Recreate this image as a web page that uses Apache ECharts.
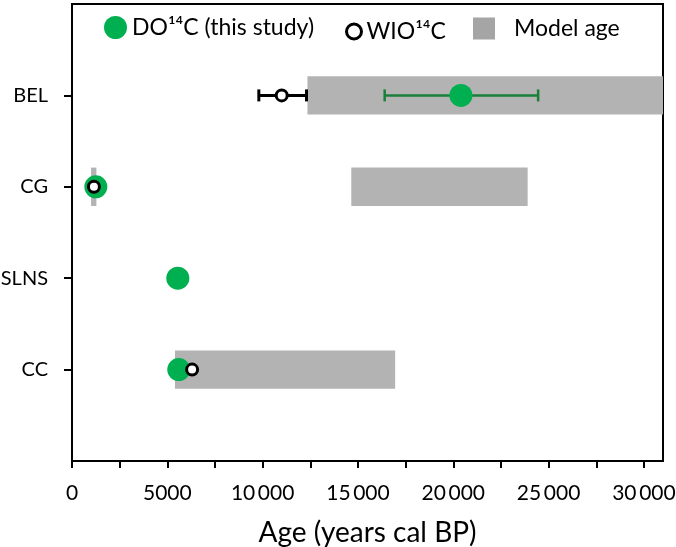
<!DOCTYPE html>
<html>
<head>
<meta charset="utf-8">
<script src="https://cdn.jsdelivr.net/npm/echarts@6/dist/echarts.min.js"></script>
<style>html,body{margin:0;padding:0;background:#fff;}#c{width:676px;height:547px;}</style>
</head>
<body>
<div id="c"></div>
<script>
// Category labels at y positions 1..4 (bottom to top)
const siteNames = ['CC', 'SLNS', 'CG', 'BEL'];
const sitePos = [1, 2, 3, 4];

// DO14C (this study): [age, sitePos]
const doAge = [5600, 5550, 1250, 20400];
const doSite = [1, 2, 3, 4];
// DO14C error (BEL only)
const doErrLow = [16400];
const doErrHigh = [24450];
const doErrSite = [4];

// WIO14C
const wioAge = [6300, 1150, 11000];
const wioSite = [1, 3, 4];
const wioErrLow = [9800];
const wioErrHigh = [12300];
const wioErrSite = [4];

// Model age ranges
const modelStart = [5400, 1000, 14650, 12350];
const modelEnd = [16950, 1280, 23900, 31000];
const modelSite = [1, 3, 3, 4];

const xTicks = [0,2500,5000,7500,10000,12500,15000,17500,20000,22500,25000,27500,30000];
const xLabels = [0,5000,10000,15000,20000,25000,30000];

const FONT = 'Lato';
const GREEN = '#00b050';
const fmt = v => v >= 10000 ? String(v).replace(/(\d+)(\d{3})$/, '$1\u2009$2') : String(v);

const chart = echarts.init(document.getElementById('c'));

function rectItem(params, api) {
  const s = api.value(0), e = api.value(1), y = api.value(2);
  const p0 = api.coord([s, y]);
  const p1 = api.coord([e, y]);
  const h = api.size([0, 0.42])[1];
  const shape = echarts.graphic.clipRectByRect(
    {x: p0[0], y: p0[1] - h / 2, width: p1[0] - p0[0], height: h},
    {x: params.coordSys.x, y: params.coordSys.y, width: params.coordSys.width, height: params.coordSys.height});
  return shape && {type: 'rect', shape: shape, style: {fill: '#b3b3b3'}};
}
function errItem(color, lw) {
  return function (params, api) {
    const s = api.value(0), e = api.value(1), y = api.value(2);
    const p0 = api.coord([s, y]);
    const p1 = api.coord([e, y]);
    const c = 6;
    const st = {stroke: color, lineWidth: lw};
    return {type: 'group', children: [
      {type: 'line', shape: {x1: p0[0], y1: p0[1], x2: p1[0], y2: p1[1]}, style: st},
      {type: 'line', shape: {x1: p0[0], y1: p0[1] - c, x2: p0[0], y2: p0[1] + c}, style: st},
      {type: 'line', shape: {x1: p1[0], y1: p1[1] - c, x2: p1[0], y2: p1[1] + c}, style: st}
    ]};
  };
}

chart.setOption({
  animation: false,
  textStyle: {fontFamily: FONT},
  grid: {left: 72, right: 13, top: 4, bottom: 86, outerBoundsMode: 'none', containLabel: false,
         show: true, borderColor: '#000', borderWidth: 2, backgroundColor: 'transparent'},
  legend: [
    {left: 104, top: 16, padding: 0, itemWidth: 23, itemHeight: 23, textStyle: {fontFamily: FONT, fontSize: 23, color: '#000'},
     data: [{name: 'DO¹⁴C (this study)', icon: 'circle', itemStyle: {color: GREEN, borderWidth: 0}}]},
    {left: 345, top: 20, padding: 0, itemWidth: 15, itemHeight: 15, textStyle: {fontFamily: FONT, fontSize: 23, color: '#000'},
     data: [{name: 'WIO¹⁴C', icon: 'circle', itemStyle: {color: '#fff', borderColor: '#000', borderWidth: 3}}]},
    {left: 473, top: 17, padding: 0, itemWidth: 22, itemHeight: 22, textStyle: {fontFamily: FONT, fontSize: 23, color: '#000', padding: [0, 0, 0, 14]},
     data: [{name: 'Model age', icon: 'rect', itemStyle: {color: '#a5a5a5'}}]}
  ],
  xAxis: {
    type: 'value', min: 0, max: 31000,
    name: 'Age (years cal BP)', nameLocation: 'middle', nameGap: 58,
    nameTextStyle: {fontFamily: FONT, fontSize: 28, color: '#000'},
    axisLine: {show: true, lineStyle: {color: '#000', width: 2}},
    axisTick: {show: true, length: 7, lineStyle: {color: '#000', width: 2}, customValues: xTicks},
    axisLabel: {fontFamily: FONT, fontSize: 21, color: '#000', margin: 22, formatter: fmt, customValues: xLabels},
    splitLine: {show: false}
  },
  yAxis: {
    type: 'value', min: 0, max: 5,
    axisLine: {show: true, lineStyle: {color: '#000', width: 2}},
    axisTick: {show: true, length: 8, lineStyle: {color: '#000', width: 2}, customValues: sitePos},
    axisLabel: {fontFamily: FONT, fontSize: 20, color: '#000', margin: 24,
      formatter: v => siteNames[sitePos.indexOf(v)] || '', customValues: sitePos},
    splitLine: {show: false}
  },
  series: [
    {name: 'Model age', type: 'custom', renderItem: rectItem, z: 1,
     itemStyle: {color: '#a5a5a5'},
     data: modelStart.map((s, i) => [s, modelEnd[i], modelSite[i]])},
    {name: 'DOerr', type: 'custom', renderItem: errItem('#1a7f3a', 2.5), z: 2,
     data: doErrLow.map((s, i) => [s, doErrHigh[i], doErrSite[i]])},
    {name: 'WIOerr', type: 'custom', renderItem: errItem('#000', 3), z: 2,
     data: wioErrLow.map((s, i) => [s, wioErrHigh[i], wioErrSite[i]])},
    {name: 'DO¹⁴C (this study)', type: 'scatter', symbol: 'circle', symbolSize: 23, z: 3,
     itemStyle: {color: GREEN, opacity: 1},
     data: doAge.map((a, i) => [a, doSite[i]])},
    {name: 'WIO¹⁴C', type: 'scatter', symbol: 'circle', symbolSize: 11, z: 4,
     itemStyle: {color: '#fff', borderColor: '#000', borderWidth: 3, opacity: 1},
     data: wioAge.map((a, i) => [a, wioSite[i]])}
  ]
});
</script>
</body>
</html>
